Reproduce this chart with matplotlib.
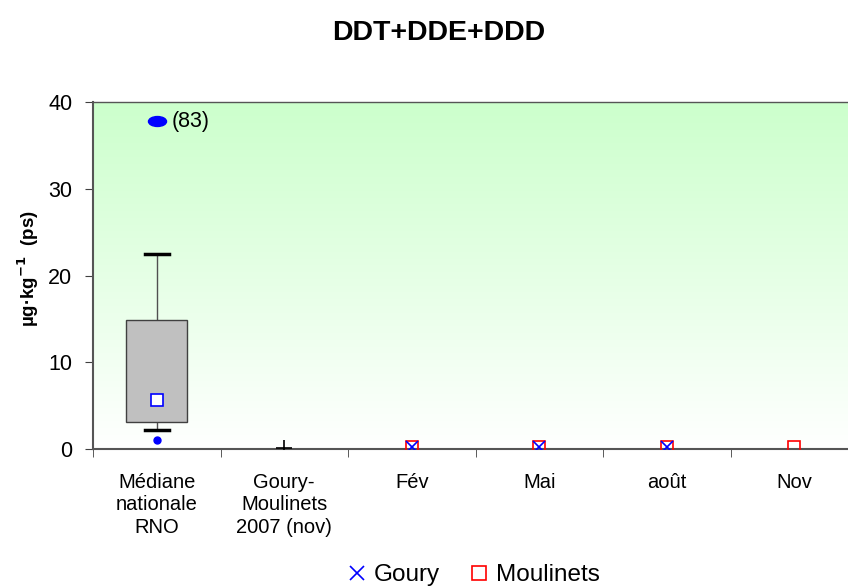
import matplotlib
matplotlib.use("Agg")
import matplotlib.pyplot as plt
import numpy as np
from matplotlib.colors import LinearSegmentedColormap
from matplotlib.lines import Line2D
from matplotlib.markers import MarkerStyle
from matplotlib.transforms import Affine2D

plt.rcParams['font.family'] = ['Liberation Sans', 'DejaVu Sans']

# Data
categories = ["Médiane\nnationale\nRNO", "Goury-\nMoulinets\n2007 (nov)", "Fév", "Mai", "août", "Nov"]
box_stats = {"q1": 3.1, "q3": 14.9, "whislo": 2.2, "whishi": 22.5, "mean": 5.7, "low_point": 1.0, "high_point": 37.8}
high_label = "(83)"
ref_2007 = 0.1
goury = [0.2, 0.2, 0.2, None]
moulinets = [0.2, 0.2, 0.2, 0.2]

fig = plt.figure(figsize=(8.48, 5.86), dpi=100)
ax = fig.add_axes([93 / 848, 1 - 449 / 586, 765 / 848, 347 / 586])

# background gradient
grad = LinearSegmentedColormap.from_list("g", ["#ffffff", "#ccffcc"])
ax.imshow(np.linspace(0, 1, 256).reshape(-1, 1), aspect="auto", cmap=grad,
          extent=[0, 1, 0, 1], transform=ax.transAxes, origin="lower", zorder=0)

# box plot for national median
x0 = 0
bw = 0.48
ax.add_patch(plt.Rectangle((x0 - bw / 2, box_stats["q1"]), bw, box_stats["q3"] - box_stats["q1"],
                           facecolor="#c0c0c0", edgecolor="#404040", lw=1, zorder=2))
ax.plot([x0, x0], [box_stats["q3"], box_stats["whishi"]], color="#505050", lw=1, zorder=1)
ax.plot([x0, x0], [box_stats["whislo"], box_stats["q1"]], color="#505050", lw=1, zorder=1)
ax.plot([x0 - 0.095, x0 + 0.095], [box_stats["whishi"]] * 2, color="black", lw=2.5, zorder=3)
ax.plot([x0 - 0.095, x0 + 0.095], [box_stats["whislo"]] * 2, color="black", lw=2.5, zorder=3)
ax.plot(x0, box_stats["mean"], marker="s", ms=9, mfc="white", mec="blue", mew=1.2, ls="none", zorder=4)
ax.plot(x0, box_stats["low_point"], marker="o", ms=5, color="blue", ls="none", zorder=4)
oval = MarkerStyle("o", transform=Affine2D().scale(1.0, 0.55))
ax.plot(x0, box_stats["high_point"], marker=oval, ms=13, color="blue", ls="none", zorder=4)
ax.annotate(high_label, (x0, box_stats["high_point"]), xytext=(11, 0), textcoords="offset points",
            va="center", ha="left", fontsize=15.5)

# 2007 reference
ax.plot(1, ref_2007, marker="+", ms=11, mew=1.2, color="black", ls="none", zorder=4)

# 2008 campaigns
xs = np.arange(2, 6)
gx = [x for x, v in zip(xs, goury) if v is not None]
gy = [v for v in goury if v is not None]
ax.plot(xs, moulinets, marker="s", ms=9, mfc="none", mec="red", mew=1.2, ls="none", zorder=4)
ax.plot(gx, gy, marker="x", ms=9, color="blue", mew=1.2, ls="none", zorder=5)

ax.set_xlim(-0.5, 5.5)
ax.set_ylim(0, 40)
ax.set_yticks([0, 10, 20, 30, 40])
ax.set_xticks(range(6))
ax.set_xticklabels(categories, fontsize=14.5, linespacing=1.23)
ax.set_xticks(np.arange(-0.5, 6, 1), minor=True)
ax.tick_params(axis="x", which="major", length=0, pad=17)
ax.tick_params(axis="x", which="minor", length=6, direction="out", color="#404040")
ax.tick_params(axis="y", labelsize=15.5, length=6, direction="out", color="#404040", pad=9)
for s in ["left", "bottom", "top"]:
    ax.spines[s].set_color("#555555")
    ax.spines[s].set_linewidth(1.5)
ax.spines["top"].set_linewidth(1)
ax.spines["right"].set_visible(False)

ax.set_ylabel("µg·kg$^{\\mathbf{-1}}$  (ps)", fontsize=13.5, fontweight="bold")
ax.yaxis.set_label_coords(-0.068, 0.52)
fig.text(439 / 848, 1 - 33 / 586, "DDT+DDE+DDD", ha="center", va="center", fontsize=20.5, fontweight="bold")

handles = [Line2D([], [], marker="x", color="blue", ls="none", ms=10, mew=1.2),
           Line2D([], [], marker="s", mfc="none", mec="red", ls="none", ms=10, mew=1.2)]
fig.legend(handles, ["Goury", "Moulinets"], loc="center", bbox_to_anchor=(471 / 848, 1 - 575 / 586),
           ncol=2, frameon=False, fontsize=17.5, handletextpad=0.1, columnspacing=1.0, handlelength=1.2)

fig.savefig("out.png", dpi=100)
